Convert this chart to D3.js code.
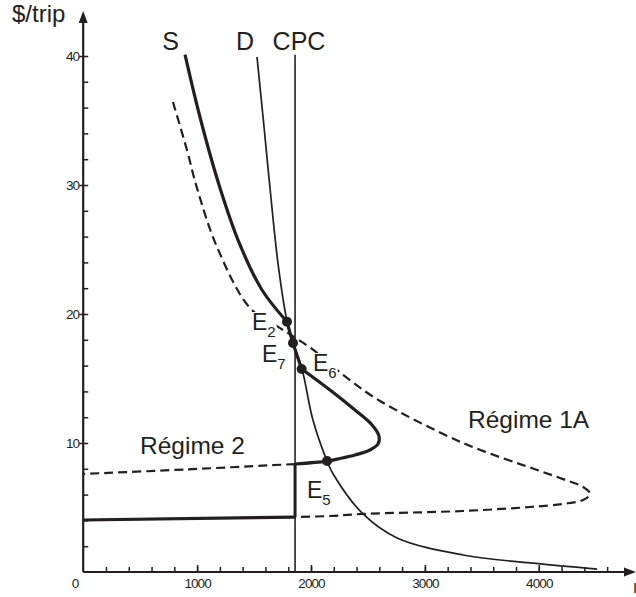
<!DOCTYPE html>
<html>
<head>
<meta charset="utf-8">
<script src="https://cdn.jsdelivr.net/npm/d3@7/dist/d3.min.js"></script>
<style>
  html, body { margin: 0; padding: 0; background: #fff; }
  svg { display: block; }
  text { font-family: "Liberation Sans", Arial, sans-serif; fill: #231f20; }
  .tick text { font-size: 13.5px; letter-spacing: -0.9px; }
</style>
</head>
<body>
<svg id="chart" width="636" height="597"></svg>
<script>
// Trips per period (x) against cost per trip in $ (y)
const xMajorTicks = [1000, 2000, 3000, 4000];
const xMinorTicks = d3.range(200, 4601, 200);
const yMajorTicks = [10, 20, 30, 40];
const yMinorTicks = d3.range(2, 41, 2);

// Capacity constraint (vertical line)
const cpc = 1860;

// Demand curve D
const demandD = [
  [1526, 39.92], [1579, 35.27], [1640, 29.77], [1710, 23.95], [1789, 19.46],
  [1842, 17.75], [1921, 15.74], [2017, 11.78], [2141, 8.60], [2194, 7.60],
  [2457, 4.50], [2756, 2.64], [3335, 1.32], [3924, 0.70], [4512, 0.23]
];

// Supply curve S (backward-bending), in three pieces joined at E2 and E6
const supplyUpper = [
  [894, 40.1], [1025, 35.27], [1201, 29.77], [1377, 25.35], [1570, 21.86],
  [1789, 19.4]
];
const supplyMiddle = [[1789, 19.4], [1842, 17.75], [1918, 15.74]];
const supplyLower = [
  [1918, 15.74], [2167, 14.11], [2386, 12.56], [2536, 11.40], [2597, 10.54],
  [2588, 9.92], [2518, 9.46], [2386, 9.07], [2255, 8.80], [2141, 8.6],
  [1860, 8.37]
];

// Régime 2 branch left of the capacity line (dashed)
const regime2Dashed = [[1860, 8.37], [900, 7.95], [0, 7.6]];

// Bottom branch: along capacity line, then back to the price axis (solid)
const capacitySegment = [[1860, 8.37], [1860, 4.26]];
const lowBranch = [[1860, 4.26], [0, 4.03]];

// Régime 1A curve (dashed)
const regime1A = [
  [788, 36.43], [911, 32.71], [999, 29.77], [1175, 25.19], [1464, 20.47],
  [1728, 18.91], [2009, 17.29], [2316, 15.04], [2606, 13.26], [3335, 10.0],
  [3985, 7.91], [4213, 7.20], [4389, 6.59], [4451, 6.05], [4389, 5.58],
  [4213, 5.28], [3924, 5.04], [3335, 4.73], [2457, 4.50], [2168, 4.34],
  [1860, 4.26]
];

// Equilibrium points
const equilibria = [
  { name: "E", sub: "2", q: 1789, p: 19.4 },
  { name: "E", sub: "7", q: 1842, p: 17.75 },
  { name: "E", sub: "6", q: 1918, p: 15.74 },
  { name: "E", sub: "5", q: 2141, p: 8.6 }
];

const ink = "#231f20";
const svg = d3.select("#chart");

const x = d3.scaleLinear().domain([0, 4800]).range([83.2, 83.2 + 4800 * 0.1139]);
const y = d3.scaleLinear().domain([0, 40]).range([572, 56]);

const line = d3.line().x(d => x(d[0])).y(d => y(d[1])).curve(d3.curveCatmullRom.alpha(0.5));
const straight = d3.line().x(d => x(d[0])).y(d => y(d[1]));

// Axes
const x0 = x(0), y0 = y(0);
svg.append("g").attr("transform", `translate(0,${y0})`)
  .call(d3.axisBottom(x).tickValues(xMinorTicks).tickSize(-5).tickFormat(""))
  .call(g => g.select(".domain").remove());
svg.append("g").attr("transform", `translate(0,${y0})`)
  .call(d3.axisBottom(x).tickValues(xMajorTicks).tickSize(-7).tickPadding(6).tickFormat(d3.format("d")))
  .call(g => g.select(".domain").remove());
svg.append("g").attr("transform", `translate(${x0},0)`)
  .call(d3.axisLeft(y).tickValues(yMinorTicks).tickSize(-5).tickFormat(""))
  .call(g => g.select(".domain").remove());
svg.append("g").attr("transform", `translate(${x0},0)`)
  .call(d3.axisLeft(y).tickValues(yMajorTicks).tickSize(4).tickPadding(0).tickFormat(d3.format("d")))
  .call(g => g.select(".domain").remove());
svg.selectAll(".tick line").attr("stroke", ink).attr("stroke-width", 1.5);
svg.selectAll(".tick text").attr("fill", ink);

// Axis lines with arrowheads
svg.append("line").attr("x1", x0).attr("x2", 628).attr("y1", y0).attr("y2", y0)
  .attr("stroke", ink).attr("stroke-width", 2.2);
svg.append("path").attr("d", `M636,${y0} L624,${y0 - 4.5} L624,${y0 + 4.5} Z`).attr("fill", ink);
svg.append("line").attr("x1", x0).attr("x2", x0).attr("y1", y0).attr("y2", 20)
  .attr("stroke", ink).attr("stroke-width", 2.2);
svg.append("path").attr("d", `M${x0},11 L${x0 - 4.5},23 L${x0 + 4.5},23 Z`).attr("fill", ink);

svg.append("text").attr("x", 75.5).attr("y", 588).attr("text-anchor", "middle")
  .style("font-size", "13.5px").text("0");
svg.append("text").attr("x", 633).attr("y", 593).style("font-size", "15px").text("I");
svg.append("text").attr("x", 12).attr("y", 22).style("font-size", "24px").text("$/trip");

// Capacity line
svg.append("line").attr("x1", x(cpc)).attr("x2", x(cpc)).attr("y1", y(40.1)).attr("y2", y0)
  .attr("stroke", ink).attr("stroke-width", 1.6);

// Dashed curves
svg.append("path").attr("d", line(regime1A)).attr("fill", "none")
  .attr("stroke", ink).attr("stroke-width", 2.2).attr("stroke-dasharray", "9,5");
svg.append("path").attr("d", line(regime2Dashed)).attr("fill", "none")
  .attr("stroke", ink).attr("stroke-width", 2.2).attr("stroke-dasharray", "9,5");

// White boxes behind the equilibrium labels mask the dashed curve there
const boxLayer = svg.append("g");

// Demand
svg.append("path").attr("d", line(demandD)).attr("fill", "none")
  .attr("stroke", ink).attr("stroke-width", 1.7);

// Supply and the solid branches
[supplyUpper, supplyMiddle, supplyLower].forEach(seg => {
  svg.append("path").attr("d", line(seg)).attr("fill", "none")
    .attr("stroke", ink).attr("stroke-width", 3.2).attr("stroke-linejoin", "round");
});
svg.append("path").attr("d", straight(capacitySegment)).attr("fill", "none")
  .attr("stroke", ink).attr("stroke-width", 3);
svg.append("path").attr("d", straight(lowBranch)).attr("fill", "none")
  .attr("stroke", ink).attr("stroke-width", 3.2);

// Equilibrium dots
svg.selectAll("circle.eq").data(equilibria).join("circle").attr("class", "eq")
  .attr("cx", d => x(d.q)).attr("cy", d => y(d.p)).attr("r", 5).attr("fill", ink);

// Equilibrium labels
const eqLabelPos = [[252, 330], [262, 362], [313, 371], [307, 498]];
equilibria.forEach((d, i) => {
  const t = svg.append("text").attr("x", eqLabelPos[i][0]).attr("y", eqLabelPos[i][1])
    .style("font-size", "23px");
  t.append("tspan").text(d.name);
  t.append("tspan").attr("dy", 7).style("font-size", "15px").text(d.sub);
  const b = t.node().getBBox();
  boxLayer.append("rect")
    .attr("x", b.x).attr("y", b.y + 3).attr("width", b.width + 1).attr("height", b.height - 4)
    .attr("fill", "#fff");
});

// Curve labels
const curveLabels = [["S", 170.5], ["D", 245], ["CPC", 299]];
curveLabels.forEach(([s, cx]) => {
  svg.append("text").attr("x", cx).attr("y", 50).attr("text-anchor", "middle")
    .style("font-size", "25px").text(s);
});
svg.append("text").attr("x", 140).attr("y", 454).style("font-size", "24.5px").text("Régime 2");
svg.append("text").attr("x", 468).attr("y", 428).style("font-size", "24.5px").text("Régime 1A");
</script>
</body>
</html>
